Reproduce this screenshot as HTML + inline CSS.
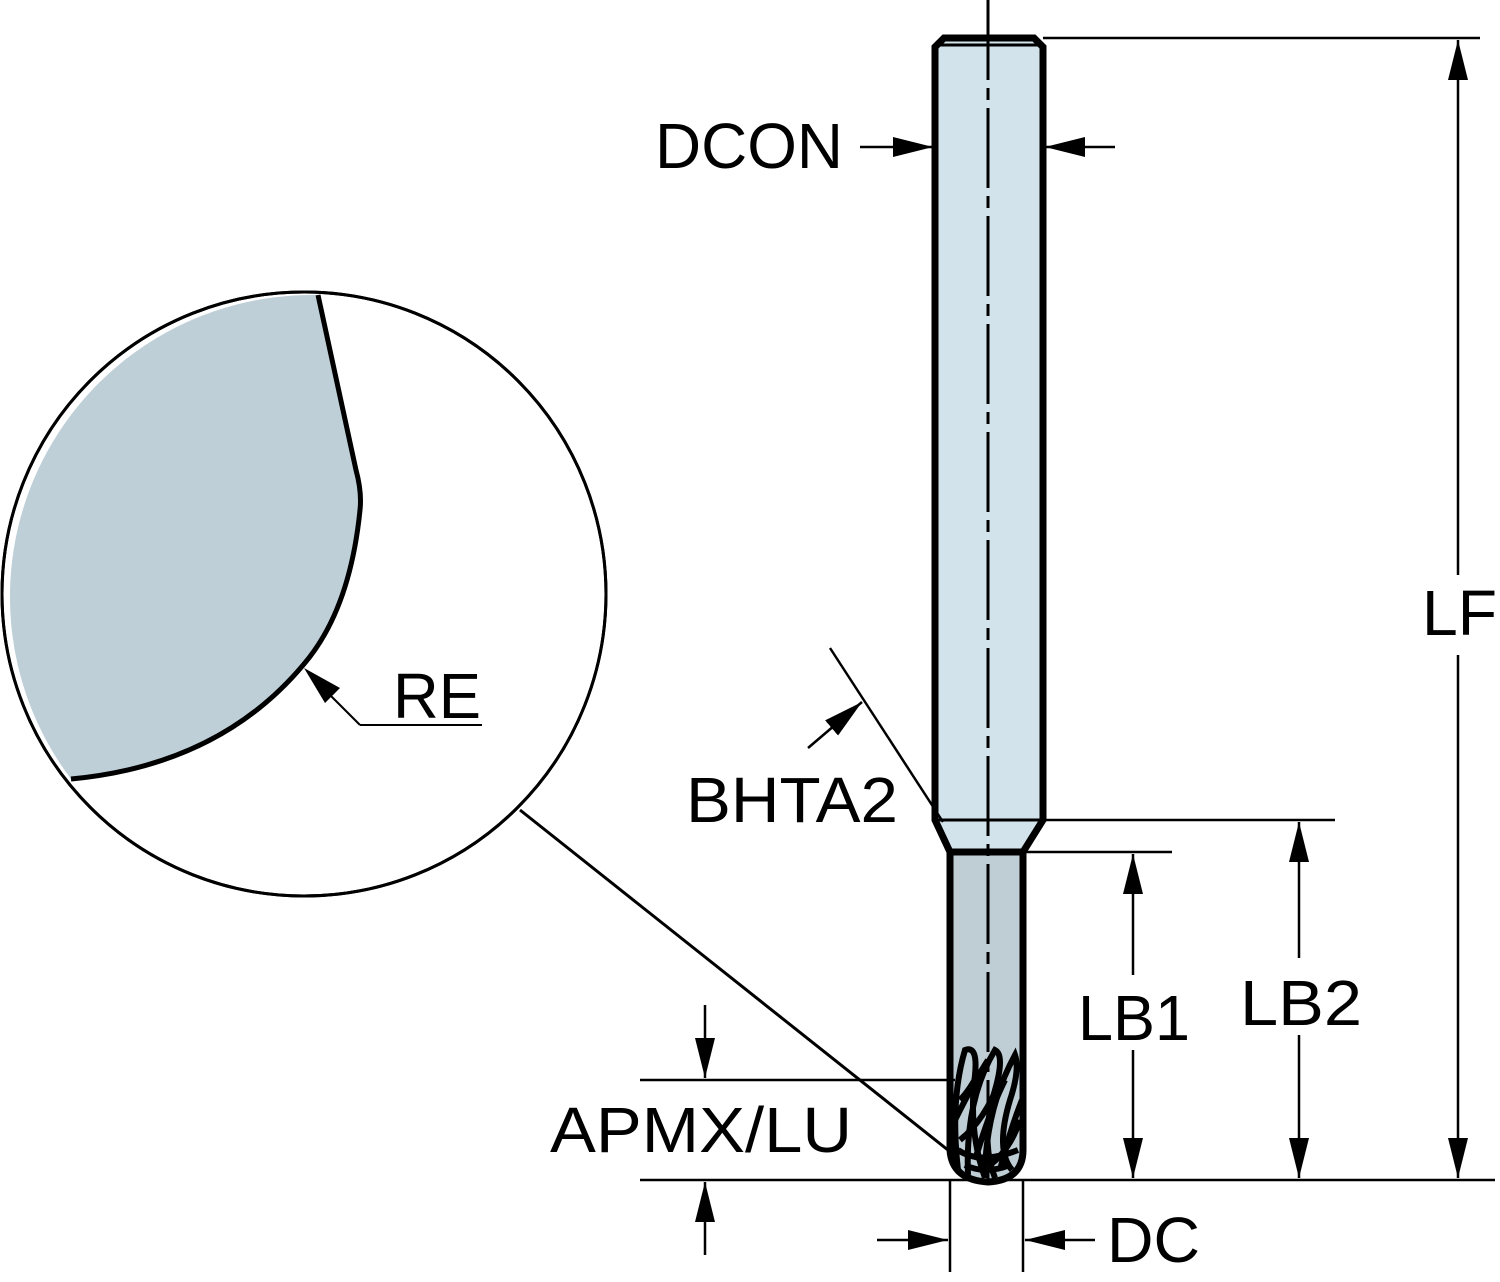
<!DOCTYPE html>
<html><head><style>
html,body{margin:0;padding:0;background:#fff;}
svg{display:block;}
text{font-family:"Liberation Sans",sans-serif;font-size:64px;fill:#000;}
</style></head><body>
<svg width="1500" height="1282" viewBox="0 0 1500 1282" xmlns="http://www.w3.org/2000/svg">
<defs>
<marker id="a" viewBox="0 0 40 20" refX="40" refY="10" markerWidth="40" markerHeight="20" markerUnits="userSpaceOnUse" orient="auto-start-reverse"><path d="M0,0 L40,10 L0,20z"/></marker>
</defs>
<!-- magnifier circle -->
<circle cx="304" cy="594" r="302" fill="#fff" stroke="#000" stroke-width="3"/>
<path d="M318,295 L356,470 Q362,492 360,510 Q350,610 304,664 Q220,765 71,779 A302,302 0 0 1 318,295 Z" fill="#bfcfd8"/>
<circle cx="304" cy="594" r="302" fill="none" stroke="#000" stroke-width="3"/>
<path d="M318,295 L356,470 Q362,492 360,510 Q350,610 304,664 Q220,765 71,779" fill="none" stroke="#000" stroke-width="5"/>
<!-- RE leader -->
<line x1="360" y1="725" x2="482" y2="725" stroke="#000" stroke-width="2"/>
<line x1="360" y1="725" x2="325" y2="690" stroke="#000" stroke-width="2"/>
<path d="M304,668 L340,688 L325,703Z"/>
<text x="393" y="718" textLength="88" lengthAdjust="spacingAndGlyphs">RE</text>
<!-- leader from circle to tip -->
<line x1="520" y1="810" x2="958" y2="1158" stroke="#000" stroke-width="3"/>
<!-- shank -->
<path d="M935,47 L944,38 L1034,38 L1043,47 L1043,820 L1023,852 L950,852 L935,820 Z" fill="#d3e3ec" stroke="#000" stroke-width="7"/>
<line x1="938" y1="820" x2="1040" y2="820" stroke="#000" stroke-width="3"/>
<line x1="938" y1="45" x2="1040" y2="45" stroke="#000" stroke-width="3"/>
<!-- neck -->
<path d="M950,852 L950,1150 Q952,1180 988,1182 Q1023,1180 1023,1150 L1023,852 Z" fill="#bfcdd5" stroke="#000" stroke-width="7"/>
<!-- flutes -->
<g fill="none" stroke="#000" stroke-width="6">
<path d="M958,1170 Q950,1100 965,1050 Q978,1045 975,1075 Q968,1130 985,1178"/>
<path d="M968,1175 Q965,1100 995,1050 Q1005,1055 995,1090 Q980,1140 995,1178"/>
<path d="M985,1178 Q985,1110 1015,1055 Q1020,1070 1010,1100 Q995,1150 1012,1170"/>
<path d="M955,1120 Q975,1080 988,1060 M975,1160 Q990,1110 1005,1080 M1000,1170 Q1010,1130 1022,1100"/>
<path d="M960,1100 Q970,1090 980,1070 M960,1140 Q985,1120 1000,1080 M990,1165 Q1010,1150 1020,1120"/>
<path d="M958,1150 Q980,1165 1018,1150 M965,1165 Q985,1175 1010,1165"/>
</g>
<!-- centerline -->
<line x1="988" y1="0" x2="988" y2="1185" stroke="#000" stroke-width="3" stroke-dasharray="80,8,12,8"/>
<!-- dimension lines -->
<g stroke="#000" stroke-width="2.5" fill="none">
<line x1="1043" y1="38" x2="1480" y2="38"/>
<line x1="1043" y1="820" x2="1335" y2="820"/>
<line x1="1023" y1="852" x2="1172" y2="852"/>
<line x1="640" y1="1180" x2="1495" y2="1180"/>
<line x1="640" y1="1080" x2="955" y2="1080"/>
<line x1="950" y1="1180" x2="950" y2="1272"/>
<line x1="1023" y1="1180" x2="1023" y2="1272"/>
<line x1="1458" y1="40" x2="1458" y2="575" marker-start="url(#a)"/>
<line x1="1458" y1="655" x2="1458" y2="1178" marker-end="url(#a)"/>
<line x1="1299" y1="822" x2="1299" y2="958" marker-start="url(#a)"/>
<line x1="1299" y1="1035" x2="1299" y2="1178" marker-end="url(#a)"/>
<line x1="1133" y1="854" x2="1133" y2="975" marker-start="url(#a)"/>
<line x1="1133" y1="1050" x2="1133" y2="1178" marker-end="url(#a)"/>
<line x1="860" y1="147" x2="933" y2="147" marker-end="url(#a)"/>
<line x1="1115" y1="147" x2="1045" y2="147" marker-end="url(#a)"/>
<line x1="877" y1="1240" x2="948" y2="1240" marker-end="url(#a)"/>
<line x1="1095" y1="1240" x2="1025" y2="1240" marker-end="url(#a)"/>
<line x1="705" y1="1005" x2="705" y2="1078" marker-end="url(#a)"/>
<line x1="705" y1="1255" x2="705" y2="1182" marker-end="url(#a)"/>
<line x1="830" y1="648" x2="943" y2="822"/>
<line x1="808" y1="748" x2="862" y2="702" marker-end="url(#a)"/>
</g>
<text x="655" y="168" textLength="188" lengthAdjust="spacingAndGlyphs">DCON</text>
<text x="1422" y="635" textLength="75" lengthAdjust="spacingAndGlyphs">LF</text>
<text x="1240" y="1025" textLength="122" lengthAdjust="spacingAndGlyphs">LB2</text>
<text x="1078" y="1040" textLength="112" lengthAdjust="spacingAndGlyphs">LB1</text>
<text x="686" y="822" textLength="212" lengthAdjust="spacingAndGlyphs">BHTA2</text>
<text x="550" y="1152" textLength="302" lengthAdjust="spacingAndGlyphs">APMX/LU</text>
<text x="1107" y="1262" textLength="93" lengthAdjust="spacingAndGlyphs">DC</text>
</svg>
</body></html>
